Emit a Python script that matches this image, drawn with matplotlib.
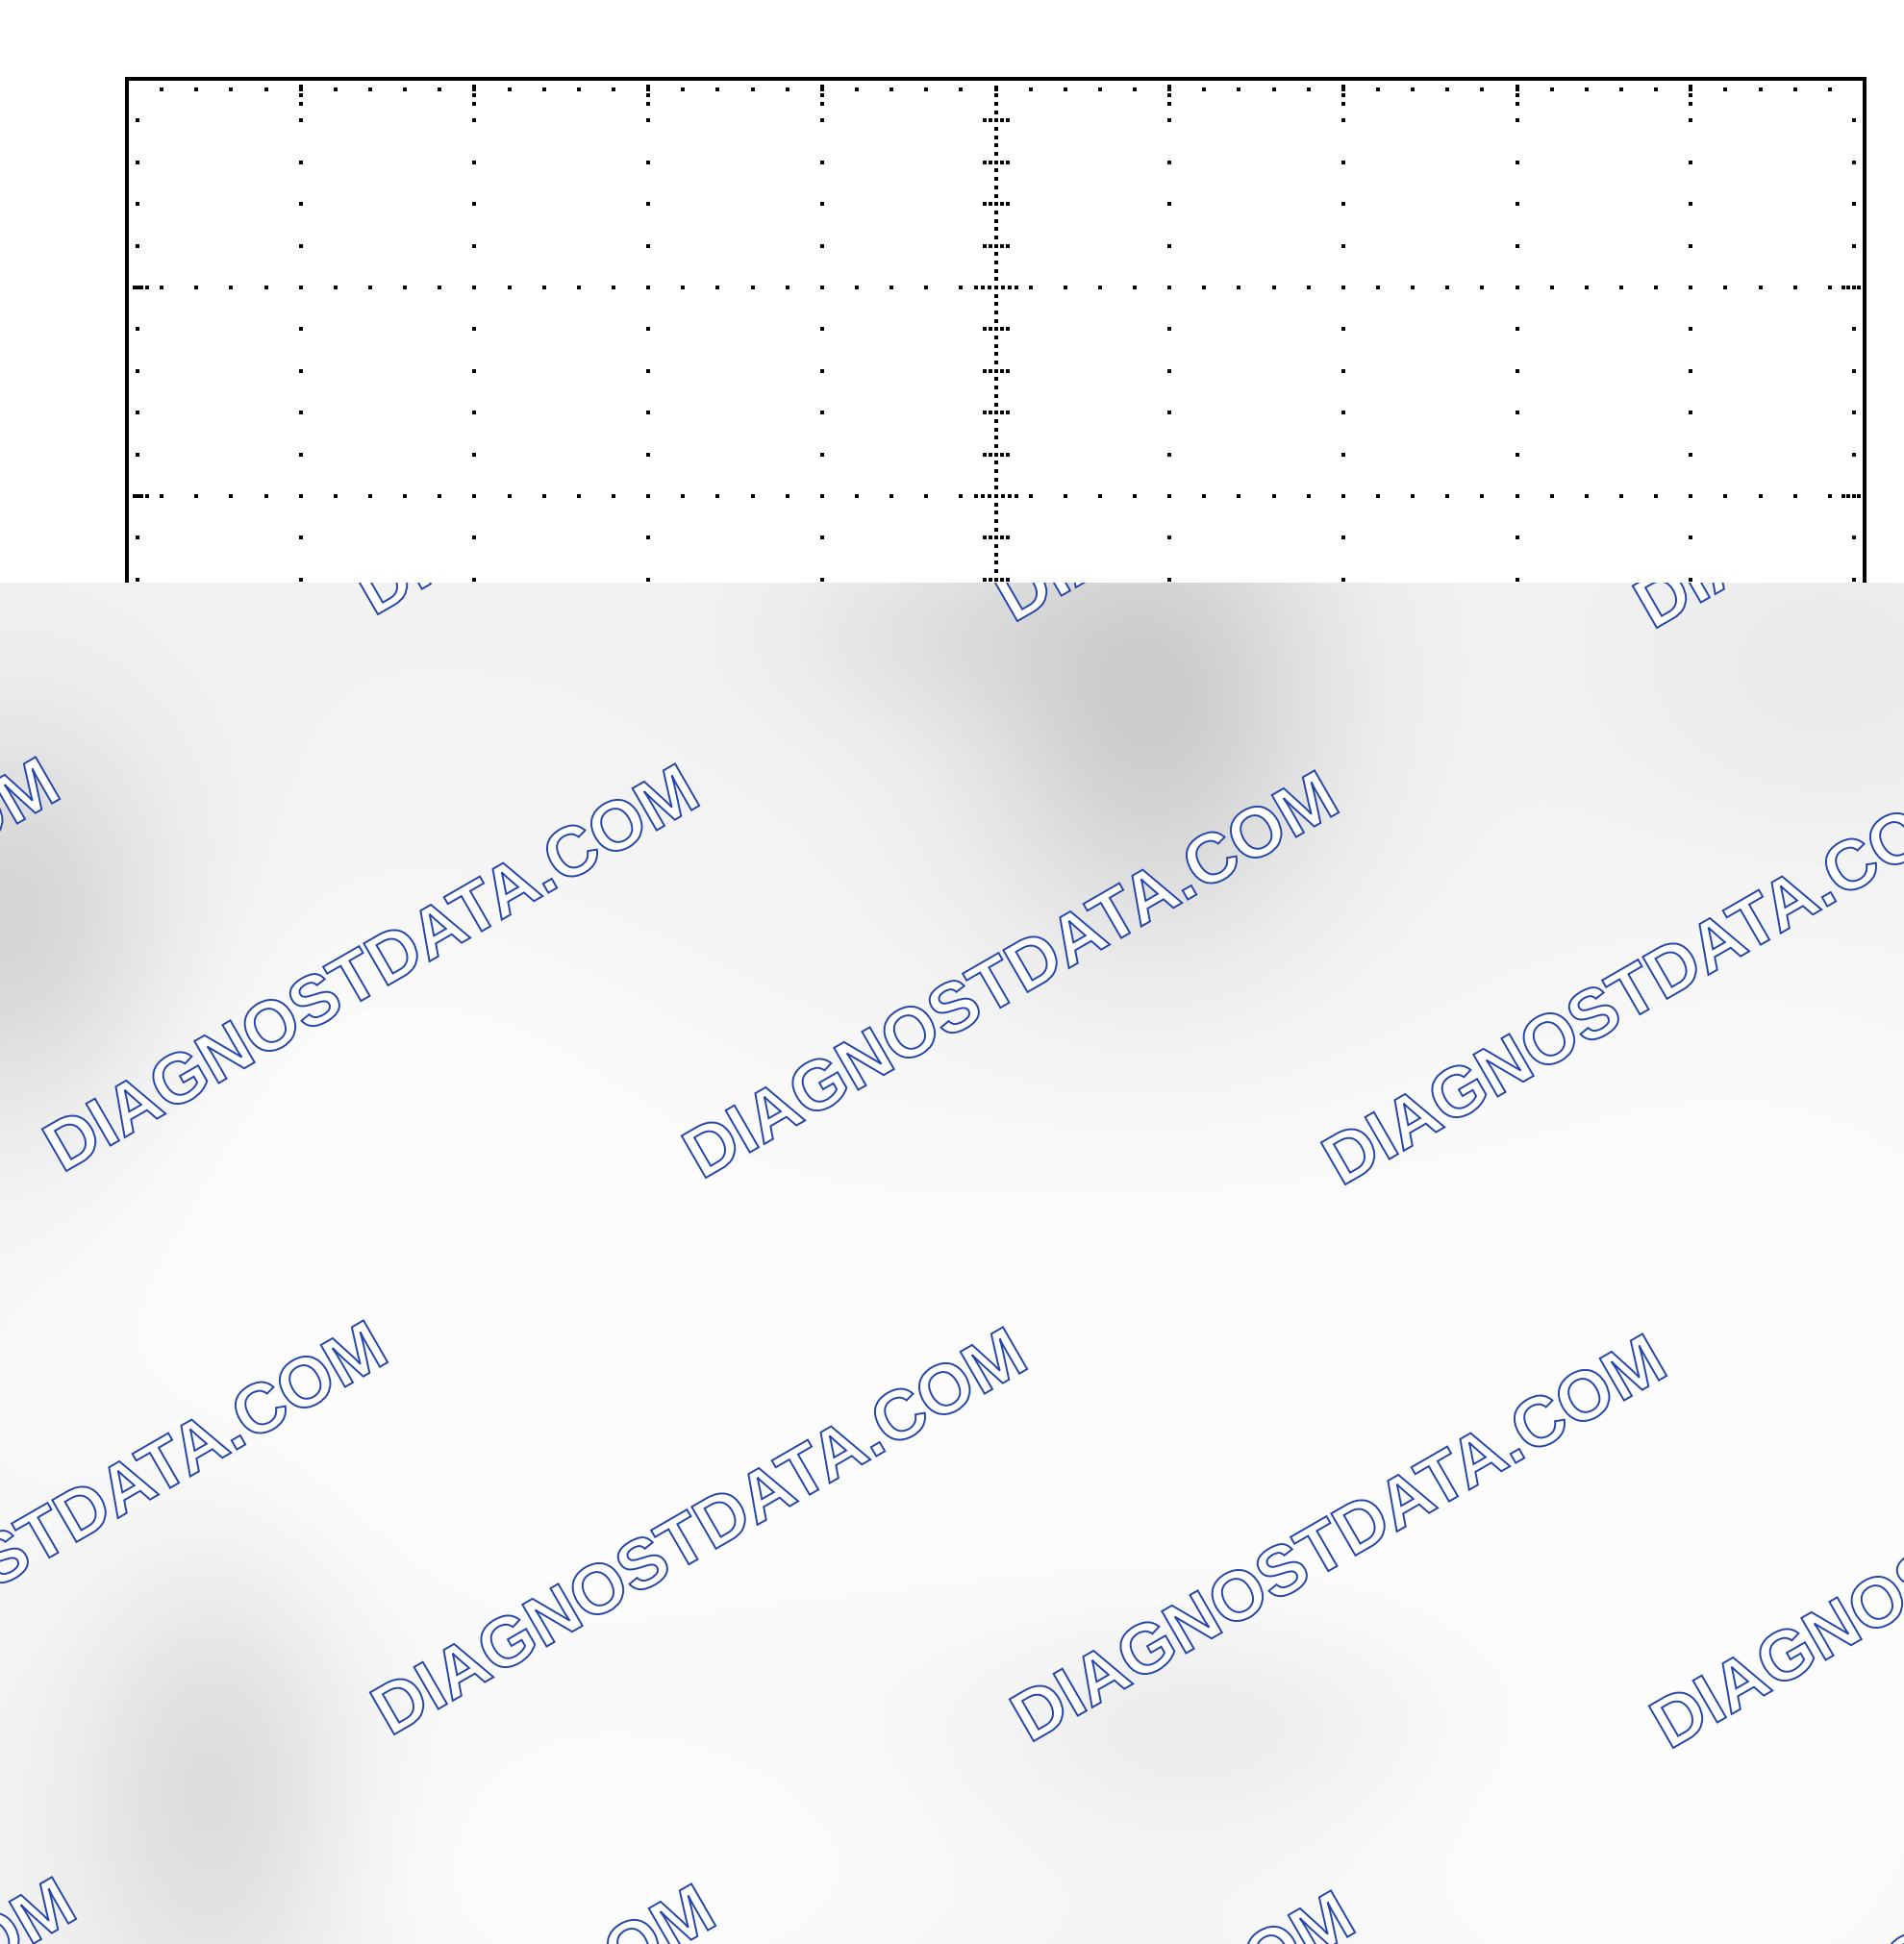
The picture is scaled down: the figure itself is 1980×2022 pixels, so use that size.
import numpy as np
import matplotlib
matplotlib.use("Agg")
import matplotlib.pyplot as plt
from matplotlib.textpath import TextPath
from matplotlib.font_manager import FontProperties
from matplotlib.patches import PathPatch
from matplotlib.transforms import Affine2D

# ---------------- data: blank oscilloscope graticule ----------------
x_divisions = 10          # horizontal major divisions
y_divisions = 8           # vertical major divisions
minor_per_div = 5         # dotted subdivisions per division
center_sub_per_div = 25   # fine dots on the centre axes
watermark_text = "DIAGNOSTDATA.COM"

# ---------------- layout ----------------
W, H, DPI = 1980, 2022, 100
FRAME_L, FRAME_R, FRAME_T, FRAME_B = 132, 1939, 82, 1818
OVERLAY_TOP = 606

fig = plt.figure(figsize=(W / DPI, H / DPI), dpi=DPI)
fig.patch.set_facecolor("white")

ax = fig.add_axes([FRAME_L / W, (H - FRAME_B) / H,
                   (FRAME_R - FRAME_L) / W, (FRAME_B - FRAME_T) / H])
ax.set_xlim(0, x_divisions)
ax.set_ylim(0, y_divisions)
ax.set_xticks([])
ax.set_yticks([])
for sp in ax.spines.values():
    sp.set_linewidth(2.9)
    sp.set_color("black")

pxx = (FRAME_R - FRAME_L) / x_divisions   # px per x division
pxy = (FRAME_B - FRAME_T) / y_divisions   # px per y division

dot_kw = dict(ls="none", marker="s", ms=2.4, mew=0, color="black", clip_on=False)

def dots(xs, ys):
    ax.plot(np.asarray(xs, float), np.asarray(ys, float), **dot_kw)

step = 1.0 / minor_per_div
xc, yc = x_divisions / 2, y_divisions / 2

# major vertical grid lines
for k in range(1, x_divisions):
    if k == xc:
        continue
    yy = np.arange(step, y_divisions, step)
    dots(np.full_like(yy, k), yy)
    off = np.array([8, 17, 26]) / pxy
    dots(np.full(3, k), y_divisions - off)

# major horizontal grid lines
for j in range(1, y_divisions):
    if j == yc:
        continue
    xx = np.arange(step, x_divisions, step)
    dots(xx, np.full_like(xx, j))
    offl = np.array([8, 15, 21]) / pxx
    dots(offl, np.full(3, j))
    offr = np.array([6, 11, 17, 22]) / pxx
    dots(x_divisions - offr, np.full(4, j))

# border tick rows
xx = np.arange(step, x_divisions, step)
dots(xx, np.full_like(xx, y_divisions - 11 / pxy))
dots(xx, np.full_like(xx, 11 / pxy))
yy = np.arange(step, y_divisions, step)
dots(np.full_like(yy, 11 / pxx), yy)
dots(np.full_like(yy, x_divisions - 11 / pxx), yy)

# centre vertical axis
fine = 1.0 / center_sub_per_div
yy = np.arange(fine, y_divisions, fine)
dots(np.full_like(yy, xc), yy)
cross_small = np.array([-12, -6, 6, 12]) / pxx
cross_big = np.array([-21, -14, -7, 7, 14, 21]) / pxx
for yv in np.arange(step, y_divisions, step):
    offs = cross_big if abs(yv - round(yv)) < 1e-6 else cross_small
    dots(xc + offs, np.full_like(offs, yv))

# centre horizontal axis
xx = np.arange(fine, x_divisions, fine)
dots(xx, np.full_like(xx, yc))
cross_small_y = np.array([-12, -6, 6, 12]) / pxy
cross_big_y = np.array([-21, -14, -7, 7, 14, 21]) / pxy
for xv in np.arange(step, x_divisions, step):
    offs = cross_big_y if abs(xv - round(xv)) < 1e-6 else cross_small_y
    dots(np.full_like(offs, xv), yc + offs)

# ---------------- grey overlay with watermark ----------------
ov_h = H - OVERLAY_TOP
ov = fig.add_axes([0, 0, 1, ov_h / H])
ov.set_xlim(0, W)
ov.set_ylim(0, ov_h)
ov.axis("off")

gx = np.arange(0, W, 4) + 2.0
gy = np.arange(OVERLAY_TOP, H, 4) + 2.0
GX, GY = np.meshgrid(gx, gy)
base_grey = 0.952
dark_spots = [  # (cx, cy, sx, sy, depth) in image pixels
    (1200, 730, 130, 170, 0.15),
    (960, 660, 110, 70, 0.05),
    (10, 960, 120, 150, 0.12),
    (225, 1860, 100, 170, 0.10),
    (1260, 1790, 160, 80, 0.045),
    (1900, 700, 150, 120, 0.035),
]
light_spots = [
    (450, 1450, 380, 230, 0.045),
    (1300, 1450, 380, 230, 0.045),
    (1870, 1450, 250, 320, 0.04),
    (650, 1960, 260, 120, 0.04),
    (1700, 1960, 260, 150, 0.035),
    (400, 1120, 220, 160, 0.025),
]
val = np.full(GX.shape, base_grey)
for cx, cy, sx, sy, d in dark_spots:
    val -= d * np.exp(-0.5 * (((GX - cx) / sx) ** 2 + ((GY - cy) / sy) ** 2))
for cx, cy, sx, sy, d in light_spots:
    val += d * np.exp(-0.5 * (((GX - cx) / sx) ** 2 + ((GY - cy) / sy) ** 2))
val = np.clip(val, 0, 0.99)
rgb = np.dstack([val, val, np.clip(val + 0.002, 0, 1)])
ov.imshow(rgb, extent=[0, W, 0, ov_h], origin="upper",
          interpolation="bilinear", aspect="auto", zorder=0)

fp = FontProperties(family="Liberation Sans", weight="bold")
tp = TextPath((0, 0), watermark_text, size=1, prop=fp)
bb = tp.get_extents()
scale = 760 / bb.width
angle = 30

origin_pt = np.array([69.0, 1218.0])   # baseline start, image coords
col_vec = np.array([665.0, 7.0])
row_vec = np.array([341.0, 586.0])
for j in range(-3, 3):
    for i in range(-3, 5):
        px, py = origin_pt + i * col_vec + j * row_vec
        tr = (Affine2D().translate(-bb.x0, 0).scale(scale)
              .rotate_deg(angle).translate(px, H - py))
        patch = PathPatch(tp, transform=tr + ov.transData,
                          facecolor="white", edgecolor="#2446aa",
                          linewidth=1.4, zorder=2)
        ov.add_patch(patch)

fig.savefig("out.png", dpi=DPI, facecolor="white")
